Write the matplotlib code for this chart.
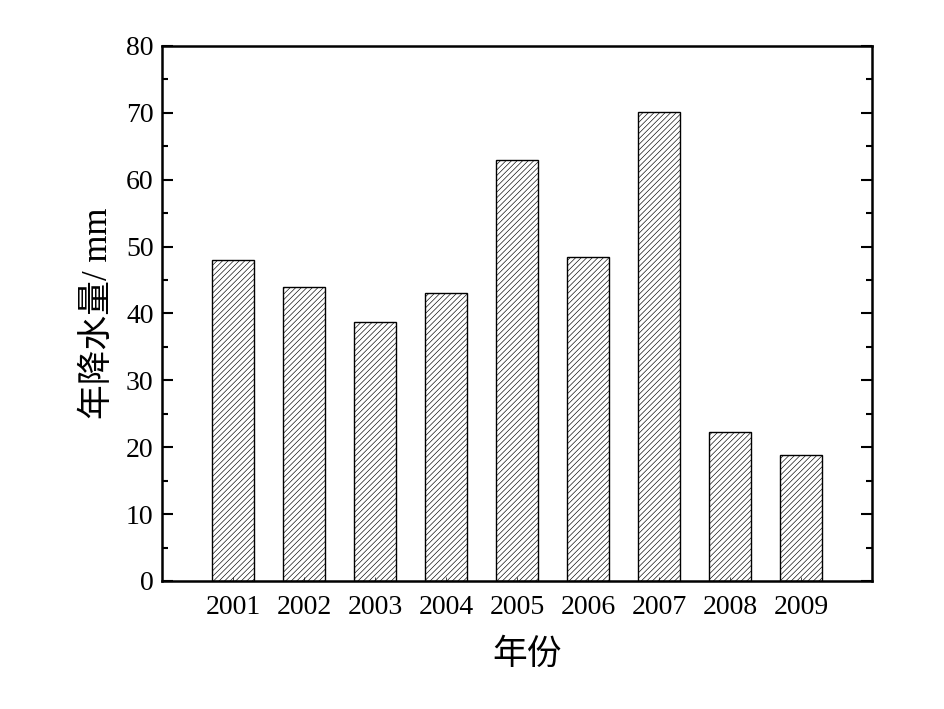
import numpy as np
import matplotlib.pyplot as plt
from matplotlib.ticker import MultipleLocator

plt.rcParams['font.family'] = ['Liberation Serif', 'Noto Sans CJK SC']
plt.rcParams['hatch.linewidth'] = 0.45

years = ['2001', '2002', '2003', '2004', '2005', '2006', '2007', '2008', '2009']
rain = [48.0, 44.0, 38.7, 43.0, 63.0, 48.4, 70.1, 22.3, 18.9]

fig = plt.figure(figsize=(9.45, 7.09), dpi=100)
ax = fig.add_axes([162/945, 1-581/709, 710/945, 535/709])

x = np.arange(1, len(years)+1)
ax.bar(x, rain, width=0.6, color='white', edgecolor='black', hatch='//////', linewidth=1.0)

ax.set_xlim(0, 10)
ax.set_ylim(0, 80)
ax.set_xticks(x)
ax.set_xticklabels(years)
ax.yaxis.set_major_locator(MultipleLocator(10))
ax.yaxis.set_minor_locator(MultipleLocator(5))
ax.tick_params(axis='y', which='both', direction='in', left=True, right=True, labelsize=20, width=1.5, pad=6)
ax.tick_params(axis='y', which='major', length=8)
ax.tick_params(axis='y', which='minor', length=4)
ax.tick_params(axis='x', direction='in', length=3, width=0.5, labelsize=20, pad=10)
for s in ax.spines.values():
    s.set_linewidth(1.8)

ax.set_xlabel('年份', fontsize=25, labelpad=14, x=0.514)
ax.set_ylabel('年降水量/ mm', fontsize=25, labelpad=8)

plt.savefig('out.png', dpi=100)
